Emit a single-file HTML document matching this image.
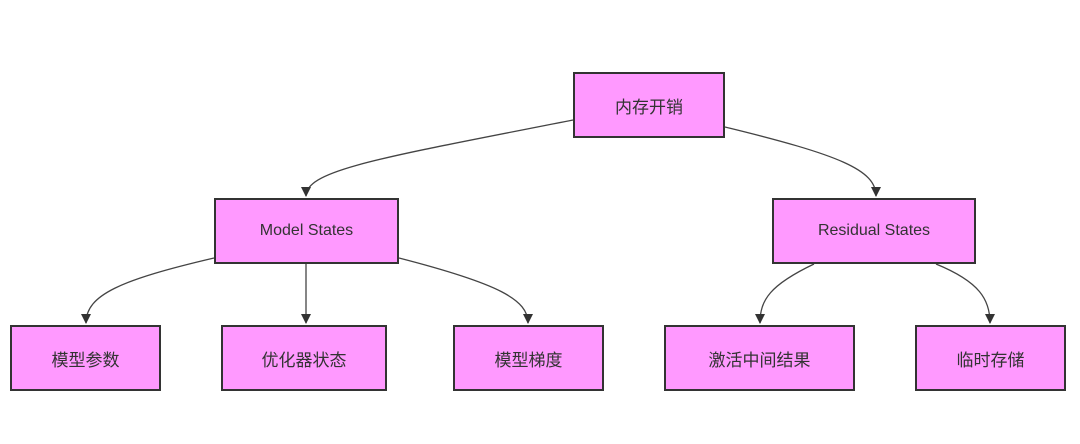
<!DOCTYPE html>
<html><head><meta charset="utf-8"><style>
body{margin:0;width:1080px;height:444px;background:#fff;overflow:hidden;position:relative;font-family:"Liberation Sans","Noto Sans CJK SC",sans-serif;}
.n{position:absolute;box-sizing:border-box;background:#ff99ff;border:2px solid #333;display:flex;align-items:center;justify-content:center;color:#333;font-size:17px;}
svg{position:absolute;left:0;top:0}
</style></head><body>
<svg width="1080" height="444">
<defs><marker id="a" markerWidth="10" markerHeight="10" refX="5" refY="8" orient="auto" markerUnits="userSpaceOnUse"><path d="M0,0 L10,0 L5,9 z" fill="#333" transform="rotate(-90 5 5)"/></marker>
<marker id="b" viewBox="0 0 10 10" refX="9" refY="5" markerWidth="10" markerHeight="10" orient="auto" markerUnits="userSpaceOnUse"><path d="M0,0 L10,5 L0,10 z" fill="#333"/></marker></defs>
<g fill="none" stroke="#444" stroke-width="1.3" marker-end="url(#b)">
<path d="M573,120 C380,158 306,170 306,196"/>
<path d="M725,127 C840,155 876,170 876,196"/>
<path d="M214,258 C120,280 86,295 86,323"/>
<path d="M306,264 L306,323"/>
<path d="M399,258 C500,284 528,300 528,323"/>
<path d="M814,264 C770,285 760,300 760,323"/>
<path d="M936,264 C980,282 990,300 990,323"/>
</g>
</svg>
<div class="n" style="left:573px;top:72px;width:152px;height:66px">内存开销</div>
<div class="n" style="left:214px;top:198px;width:185px;height:66px;font-size:16px">Model States</div>
<div class="n" style="left:772px;top:198px;width:204px;height:66px;font-size:16px">Residual States</div>
<div class="n" style="left:10px;top:325px;width:151px;height:66px">模型参数</div>
<div class="n" style="left:221px;top:325px;width:166px;height:66px">优化器状态</div>
<div class="n" style="left:453px;top:325px;width:151px;height:66px">模型梯度</div>
<div class="n" style="left:664px;top:325px;width:191px;height:66px">激活中间结果</div>
<div class="n" style="left:915px;top:325px;width:151px;height:66px">临时存储</div>
</body></html>
